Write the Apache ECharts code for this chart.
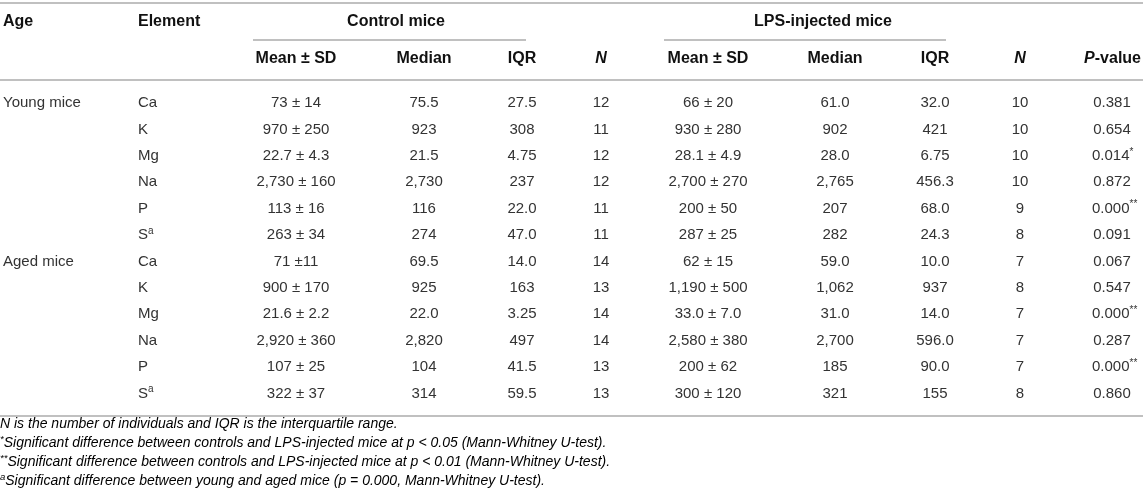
<!DOCTYPE html>
<html>
<head>
<meta charset="utf-8">
<title>Elements in control and LPS-injected mice</title>
<script src="https://cdn.jsdelivr.net/npm/echarts@6/dist/echarts.min.js"></script>
<style>
    html, body { margin: 0; padding: 0; background: #fff; }
    #main { width: 1143px; height: 503px; }
</style>
</head>
<body>
<div id="main"></div>
<script>
// table data, one array per column
var ageGroups = ['Young mice', 'Aged mice'];
var elements = ['Ca', 'K', 'Mg', 'Na', 'P', 'S'];
var elementMark = ['', '', '', '', '', 'a'];

var ctrlMeanSd = ['73 ± 14', '970 ± 250', '22.7 ± 4.3', '2,730 ± 160', '113 ± 16', '263 ± 34',
                  '71 ±11', '900 ± 170', '21.6 ± 2.2', '2,920 ± 360', '107 ± 25', '322 ± 37'];
var ctrlMedian = ['75.5', '923', '21.5', '2,730', '116', '274',
                  '69.5', '925', '22.0', '2,820', '104', '314'];
var ctrlIqr = ['27.5', '308', '4.75', '237', '22.0', '47.0',
               '14.0', '163', '3.25', '497', '41.5', '59.5'];
var ctrlN = [12, 11, 12, 12, 11, 11, 14, 13, 14, 14, 13, 13];

var lpsMeanSd = ['66 ± 20', '930 ± 280', '28.1 ± 4.9', '2,700 ± 270', '200 ± 50', '287 ± 25',
                 '62 ± 15', '1,190 ± 500', '33.0 ± 7.0', '2,580 ± 380', '200 ± 62', '300 ± 120'];
var lpsMedian = ['61.0', '902', '28.0', '2,765', '207', '282',
                 '59.0', '1,062', '31.0', '2,700', '185', '321'];
var lpsIqr = ['32.0', '421', '6.75', '456.3', '68.0', '24.3',
              '10.0', '937', '14.0', '596.0', '90.0', '155'];
var lpsN = [10, 10, 10, 10, 9, 8, 7, 8, 7, 7, 7, 8];

var pValues = ['0.381', '0.654', '0.014', '0.872', '0.000', '0.091',
               '0.067', '0.547', '0.000', '0.287', '0.000', '0.860'];
var pStars = ['', '', '*', '', '**', '', '', '', '**', '', '**', ''];

var footnotes = [
    '{t|N is the number of individuals and IQR is the interquartile range.}',
    '{s|*}{t|Significant difference between controls and LPS-injected mice at p < 0.05 (Mann-Whitney U-test).}',
    '{s|**}{t|Significant difference between controls and LPS-injected mice at p < 0.01 (Mann-Whitney U-test).}',
    '{s|a}{t|Significant difference between young and aged mice (p = 0.000, Mann-Whitney U-test).}'
];

// layout
var W = 1143, H = 503;
var rowTop = 103, rowStep = 26.4;
var colX = {age: 3, element: 138, cMean: 296, cMedian: 424, cIqr: 522, cN: 601,
            lMean: 708, lMedian: 835, lIqr: 935, lN: 1020, p: 1112};
var FONT = '"Liberation Sans", Arial, Helvetica, sans-serif';
var bodyColor = '#333';
var headColor = '#111';
var ruleColor = '#ababab';

var rowKeys = [];
var rowData = [];
for (var g = 0; g < ageGroups.length; g++) {
    for (var e = 0; e < elements.length; e++) {
        rowKeys.push(ageGroups[g] + ' ' + elements[e]);
        rowData.push([0, rowKeys.length - 1]);
    }
}
var nRows = rowKeys.length;

function cellText(x, y, text, align, rich) {
    return {
        type: 'text',
        x: x,
        y: y,
        style: {
            text: text,
            align: align || 'center',
            verticalAlign: 'middle',
            font: '15px ' + FONT,
            fill: bodyColor,
            rich: rich
        }
    };
}

var supRich = {
    v: {fontSize: 15, fontFamily: FONT, color: bodyColor, lineHeight: 18},
    s: {fontSize: 10, fontFamily: FONT, color: bodyColor, verticalAlign: 'top', lineHeight: 18, padding: [0, 0, 6, 0]}
};

function renderRow(params, api) {
    var i = api.value(1);
    var y = api.coord([0, i])[1];
    var px = function (v) { return api.coord([v, i])[0]; };
    var kids = [];
    if (i % elements.length === 0) {
        kids.push(cellText(px(colX.age), y, ageGroups[Math.floor(i / elements.length)], 'left'));
    }
    var e = i % elements.length;
    if (elementMark[e]) {
        kids.push(cellText(px(colX.element), y, '{v|' + elements[e] + '}{s|' + elementMark[e] + '}', 'left', supRich));
    } else {
        kids.push(cellText(px(colX.element), y, elements[e], 'left'));
    }
    kids.push(cellText(px(colX.cMean), y, ctrlMeanSd[i]));
    kids.push(cellText(px(colX.cMedian), y, ctrlMedian[i]));
    kids.push(cellText(px(colX.cIqr), y, ctrlIqr[i]));
    kids.push(cellText(px(colX.cN), y, String(ctrlN[i])));
    kids.push(cellText(px(colX.lMean), y, lpsMeanSd[i]));
    kids.push(cellText(px(colX.lMedian), y, lpsMedian[i]));
    kids.push(cellText(px(colX.lIqr), y, lpsIqr[i]));
    kids.push(cellText(px(colX.lN), y, String(lpsN[i])));
    if (pStars[i]) {
        kids.push(cellText(px(colX.p) - 20, y, '{v|' + pValues[i] + '}{s|' + pStars[i] + '}', 'left', supRich));
    } else {
        kids.push(cellText(px(colX.p), y, pValues[i]));
    }
    return {type: 'group', children: kids};
}

function headText(x, y, text, align, rich) {
    return {
        type: 'text',
        x: x,
        y: y,
        style: {
            text: text,
            align: align || 'center',
            verticalAlign: 'middle',
            font: 'bold 16px ' + FONT,
            fill: headColor,
            rich: rich
        }
    };
}

function rule(x1, x2, y, w) {
    return {
        type: 'line',
        shape: {x1: x1, y1: y, x2: x2, y2: y},
        style: {stroke: ruleColor, lineWidth: w || 1.5}
    };
}

var headRich = {
    i: {fontSize: 16, fontFamily: FONT, fontWeight: 'bold', fontStyle: 'italic', color: headColor},
    b: {fontSize: 16, fontFamily: FONT, fontWeight: 'bold', color: headColor}
};

var footRich = {
    t: {fontSize: 14, fontFamily: FONT, fontStyle: 'italic', color: bodyColor, lineHeight: 18},
    s: {fontSize: 9.5, fontFamily: FONT, fontStyle: 'italic', color: bodyColor, verticalAlign: 'top', lineHeight: 18}
};

var graphics = [
    rule(0, W, 3),
    rule(253, 526, 40),
    rule(664, 946, 40),
    rule(0, W, 80),
    rule(0, W, 416),
    headText(3, 22, 'Age', 'left'),
    headText(138, 22, 'Element', 'left'),
    headText(396, 22, 'Control mice'),
    headText(823, 22, 'LPS-injected mice'),
    headText(colX.cMean, 59, 'Mean ± SD'),
    headText(colX.cMedian, 59, 'Median'),
    headText(colX.cIqr, 59, 'IQR'),
    headText(colX.cN, 59, '{i|N}', 'center', headRich),
    headText(colX.lMean, 59, 'Mean ± SD'),
    headText(colX.lMedian, 59, 'Median'),
    headText(colX.lIqr, 59, 'IQR'),
    headText(colX.lN, 59, '{i|N}', 'center', headRich),
    headText(W - 2, 59, '{i|P}{b|-value}', 'right', headRich)
];
for (var f = 0; f < footnotes.length; f++) {
    graphics.push({
        type: 'text',
        x: 0,
        y: 424 + f * 19,
        style: {text: footnotes[f], align: 'left', verticalAlign: 'middle', rich: footRich}
    });
}

var chart = echarts.init(document.getElementById('main'));
chart.setOption({
    backgroundColor: '#fff',
    animation: false,
    grid: {
        left: 0,
        right: 0,
        top: rowTop - rowStep / 2,
        bottom: H - (rowTop + rowStep * (nRows - 0.5))
    },
    xAxis: {type: 'value', min: 0, max: W, show: false},
    yAxis: {type: 'category', data: rowKeys, inverse: true, show: false},
    series: [{
        type: 'custom',
        renderItem: renderRow,
        data: rowData,
        silent: true
    }],
    graphic: graphics
});
</script>
</body>
</html>
